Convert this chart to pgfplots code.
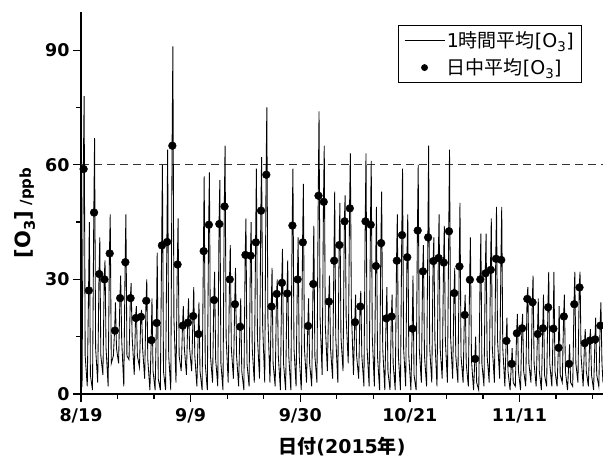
\documentclass[border=0pt]{standalone}
\usepackage{pgfplots}
\pgfplotsset{compat=1.18}
\usepackage{fontspec}
\setmainfont{DejaVu Sans}
\newfontfamily\jp{Noto Sans CJK JP}
\begin{document}
\begin{tikzpicture}
\begin{axis}[
 width=522pt, height=382pt, scale only axis,
 xmin=0, xmax=100, ymin=0, ymax=100,
 axis x line*=bottom, axis y line*=left,
 axis line style={line width=1.3pt, -},
 xtick={0,21,42,63,84}, xticklabels={8/19,9/9,9/30,10/21,11/11},
 minor xtick={7,14,28,35,49,56,70,77,91,98},
 ytick={0,30,60,90}, minor ytick={15,45,75},
 tick align=outside,
 major tick length=8pt, minor tick length=4.5pt,
 every tick/.style={black, line width=1.3pt},
 tick label style={font=\fontsize{17.5}{17.5}\selectfont\bfseries},
 xticklabel shift=3pt,
 /pgf/number format/assume math mode=true,
 every axis x label/.style={at={(axis description cs:0.5,0)}, yshift=-53pt, anchor=center},
 every axis y label/.style={at={(axis description cs:0,0.5)}, xshift=-56pt, yshift=-10pt, rotate=90, anchor=center},
 xlabel={\fontsize{19}{19}\selectfont\bfseries{\jp 日付}(2015{\jp 年})},
 ylabel={\bfseries{\fontsize{21}{21}\selectfont [O\textsubscript{3}]}{\fontsize{15}{15}\selectfont\ /ppb}},
 legend style={at={(0.96,0.966)}, anchor=north east, draw=black, line width=0.8pt,
   font=\fontsize{19}{19}\selectfont, inner xsep=6pt, inner ysep=4pt, row sep=6pt,
   cells={anchor=west}},
 legend cell align=left,
]
\coordinate (sw) at (rel axis cs:0,0);
\coordinate (ne) at (rel axis cs:1,1);
\addplot[forget plot, dash pattern=on 8pt off 5pt, line width=1.3pt, black!80] coordinates {(0,60)(100,60)};
\addplot[black, line width=0.85pt, mark=none,
  legend image code/.code={\draw[black, line width=0.7pt] (0pt,0pt) -- (40pt,0pt);}] coordinates {
(0,2)
(0.2,2)(0.45,59)(0.6,78)(0.8,10)
(1.2,2)(1.45,27)(1.6,45)(1.8,5)
(2.2,1)(2.45,47)(2.6,67)(2.8,12)
(3.2,3)(3.45,31)(3.6,41)(3.8,10)
(4.2,5)(4.45,30)(4.6,35)(4.8,12)
(5.2,2)(5.45,37)(5.6,47)(5.8,8)
(6.2,10)(6.45,17)(6.6,24)(6.8,12)
(7.2,8)(7.45,25)(7.6,31)(7.8,14)
(8.2,2)(8.45,34)(8.6,47)(8.8,10)
(9.2,9)(9.45,25)(9.6,29)(9.8,15)
(10.2,5)(10.45,20)(10.6,23)(10.8,10)
(11.2,7)(11.45,20)(11.6,22)(11.8,12)
(12.2,4)(12.45,24)(12.6,30)(12.8,9)
(13.2,1)(13.45,14)(13.6,25)(13.8,6)
(14.2,1)(14.45,19)(14.6,37)(14.8,4)
(15.2,1)(15.45,39)(15.6,60)(15.8,6)
(16.2,1)(16.45,40)(16.6,64)(16.8,10)
(17.2,1)(17.45,65)(17.6,91)(17.8,20)
(18.2,3)(18.45,34)(18.6,46)(18.8,10)
(19.2,6)(19.45,18)(19.6,23)(19.8,12)
(20.2,5)(20.45,19)(20.6,25)(20.8,12)
(21.2,6)(21.45,20)(21.6,28)(21.8,10)
(22.2,2)(22.45,16)(22.6,24)(22.8,6)
(23.2,1)(23.45,37)(23.6,57)(23.8,8)
(24.2,1)(24.45,44)(24.6,58)(24.8,10)
(25.2,3)(25.45,25)(25.6,32)(25.8,9)
(26.2,2)(26.45,45)(26.6,56)(26.8,8)
(27.2,1)(27.45,49)(27.6,65)(27.8,15)
(28.2,3)(28.45,30)(28.6,39)(28.8,12)
(29.2,4)(29.45,24)(29.6,33)(29.8,10)
(30.2,2)(30.45,18)(30.6,25)(30.8,6)
(31.2,1)(31.45,36)(31.6,46)(31.8,8)
(32.2,2)(32.45,36)(32.6,45)(32.8,12)
(33.2,3)(33.45,40)(33.6,59)(33.8,15)
(34.2,4)(34.45,48)(34.6,62)(34.8,18)
(35.2,3)(35.45,57)(35.6,75)(35.8,20)
(36.2,3)(36.45,23)(36.6,33)(36.8,8)
(37.2,2)(37.45,26)(37.6,30)(37.8,10)
(38.2,1)(38.45,29)(38.6,38)(38.8,8)
(39.2,1)(39.45,26)(39.6,35)(39.8,10)
(40.2,1)(40.45,44)(40.6,59)(40.8,12)
(41.2,2)(41.45,30)(41.6,41)(41.8,10)
(42.2,1)(42.45,40)(42.6,55)(42.8,12)
(43.2,3)(43.45,18)(43.6,25)(43.8,8)
(44.2,2)(44.45,29)(44.6,44)(44.8,10)
(45.2,3)(45.45,52)(45.6,74)(45.8,20)
(46.2,5)(46.45,50)(46.6,65)(46.8,18)
(47.2,6)(47.45,24)(47.6,31)(47.8,12)
(48.2,4)(48.45,35)(48.6,53)(48.8,15)
(49.2,3)(49.45,39)(49.6,50)(49.8,15)
(50.2,6)(50.45,45)(50.6,52)(50.8,20)
(51.2,8)(51.45,49)(51.6,63)(51.8,22)
(52.2,5)(52.45,19)(52.6,26)(52.8,10)
(53.2,4)(53.45,23)(53.6,27)(53.8,10)
(54.2,2)(54.45,45)(54.6,63)(54.8,12)
(55.2,2)(55.45,44)(55.6,61)(55.8,15)
(56.2,2)(56.45,34)(56.6,49)(56.8,10)
(57.2,1)(57.45,40)(57.6,53)(57.8,12)
(58.2,1)(58.45,20)(58.6,28)(58.8,6)
(59.2,1)(59.45,20)(59.6,26)(59.8,8)
(60.2,1)(60.45,35)(60.6,47)(60.8,10)
(61.2,1)(61.45,42)(61.6,59)(61.8,12)
(62.2,2)(62.45,36)(62.6,47)(62.8,10)
(63.2,1)(63.45,17)(63.6,31)(63.8,5)
(64.2,1)(64.45,43)(64.6,60)(64.8,12)
(65.2,3)(65.45,32)(65.6,39)(65.8,10)
(66.2,2)(66.45,41)(66.6,65)(66.8,12)
(67.2,3)(67.45,35)(67.6,41)(67.8,14)
(68.2,2)(68.45,36)(68.6,47)(68.8,12)
(69.2,4)(69.45,34)(69.6,44)(69.8,14)
(70.2,3)(70.45,43)(70.6,64)(70.8,15)
(71.2,4)(71.45,26)(71.6,33)(71.8,10)
(72.2,3)(72.45,33)(72.6,50)(72.8,10)
(73.2,3)(73.45,21)(73.6,26)(73.8,8)
(74.2,2)(74.45,30)(74.6,41)(74.8,9)
(75.2,1)(75.45,9)(75.6,15)(75.8,3)
(76.2,1)(76.45,30)(76.6,42)(76.8,8)
(77.2,2)(77.45,32)(77.6,42)(77.8,10)
(78.2,3)(78.45,33)(78.6,46)(78.8,12)
(79.2,3)(79.45,35)(79.6,49)(79.8,14)
(80.2,4)(80.45,35)(80.6,49)(80.8,12)
(81.2,2)(81.45,14)(81.6,20)(81.8,6)
(82.2,1)(82.45,8)(82.6,12)(82.8,3)
(83.2,2)(83.45,16)(83.6,21)(83.8,6)
(84.2,1)(84.45,17)(84.6,21)(84.8,6)
(85.2,2)(85.45,25)(85.6,28)(85.8,8)
(86.2,3)(86.45,24)(86.6,31)(86.8,8)
(87.2,2)(87.45,16)(87.6,25)(87.8,6)
(88.2,1)(88.45,17)(88.6,26)(88.8,5)
(89.2,2)(89.45,23)(89.6,32)(89.8,8)
(90.2,2)(90.45,17)(90.6,32)(90.8,6)
(91.2,2)(91.45,12)(91.6,23)(91.8,5)
(92.2,3)(92.45,20)(92.6,26)(92.8,6)
(93.2,1)(93.45,8)(93.6,13)(93.8,3)
(94.2,2)(94.45,24)(94.6,32)(94.8,8)
(95.2,3)(95.45,28)(95.6,32)(95.8,10)
(96.2,2)(96.45,13)(96.6,17)(96.8,6)
(97.2,2)(97.45,14)(97.6,17)(97.8,5)
(98.2,1)(98.45,14)(98.6,20)(98.8,5)
(99.2,2)(99.45,18)(99.6,24)(99.8,8)
(100,3)
};
\addlegendentry{1{\jp 時間平均}[O\textsubscript{3}]}
\addplot[only marks, mark=*, mark size=3.9pt, black,
  legend image code/.code={\fill[black] (20pt,0pt) circle (3pt);}] coordinates {
(0.5,58.9)(1.5,27.1)(2.5,47.5)(3.5,31.4)(4.5,30.0)(5.5,36.8)(6.5,16.6)(7.5,25.1)(8.5,34.5)(9.5,25.1)
(10.5,19.9)(11.5,20.2)(12.5,24.4)(13.5,14.1)(14.5,18.6)(15.5,38.9)(16.5,39.8)(17.5,65.0)(18.5,33.9)(19.5,17.9)
(20.5,18.7)(21.5,20.4)(22.5,15.7)(23.5,37.4)(24.5,44.3)(25.5,24.6)(26.5,44.5)(27.5,49.1)(28.5,30.0)(29.5,23.5)
(30.5,17.6)(31.5,36.4)(32.5,36.2)(33.5,39.7)(34.5,48.0)(35.5,57.4)(36.5,22.9)(37.5,26.2)(38.5,29.1)(39.5,26.3)
(40.5,44.1)(41.5,30.0)(42.5,39.7)(43.5,17.8)(44.5,28.8)(45.5,51.9)(46.5,50.3)(47.5,24.2)(48.5,34.9)(49.5,39.0)
(50.5,45.2)(51.5,48.6)(52.5,18.8)(53.5,22.9)(54.5,45.2)(55.5,44.3)(56.5,33.5)(57.5,39.5)(58.5,19.8)(59.5,20.3)
(60.5,34.9)(61.5,41.6)(62.5,35.8)(63.5,17.1)(64.5,42.8)(65.5,32.1)(66.5,41.0)(67.5,34.8)(68.5,35.6)(69.5,34.4)
(70.5,42.6)(71.5,26.4)(72.5,33.4)(73.5,20.7)(74.5,29.9)(75.5,9.2)(76.5,30.0)(77.5,31.6)(78.5,32.5)(79.5,35.4)
(80.5,35.1)(81.5,13.9)(82.5,7.9)(83.5,15.9)(84.5,17.2)(85.5,24.9)(86.5,24.0)(87.5,15.7)(88.5,17.2)(89.5,22.7)
(90.5,17.1)(91.5,12.1)(92.5,20.3)(93.5,7.9)(94.5,23.5)(95.5,27.9)(96.5,13.3)(97.5,14.0)(98.5,14.3)(99.5,17.9)
};
\addlegendentry{{\jp 日中平均}[O\textsubscript{3}]}
\end{axis}
\pgfresetboundingbox
\path ([xshift=-81pt,yshift=-67pt]sw) rectangle ([yshift=12pt]ne);
\end{tikzpicture}
\end{document}
